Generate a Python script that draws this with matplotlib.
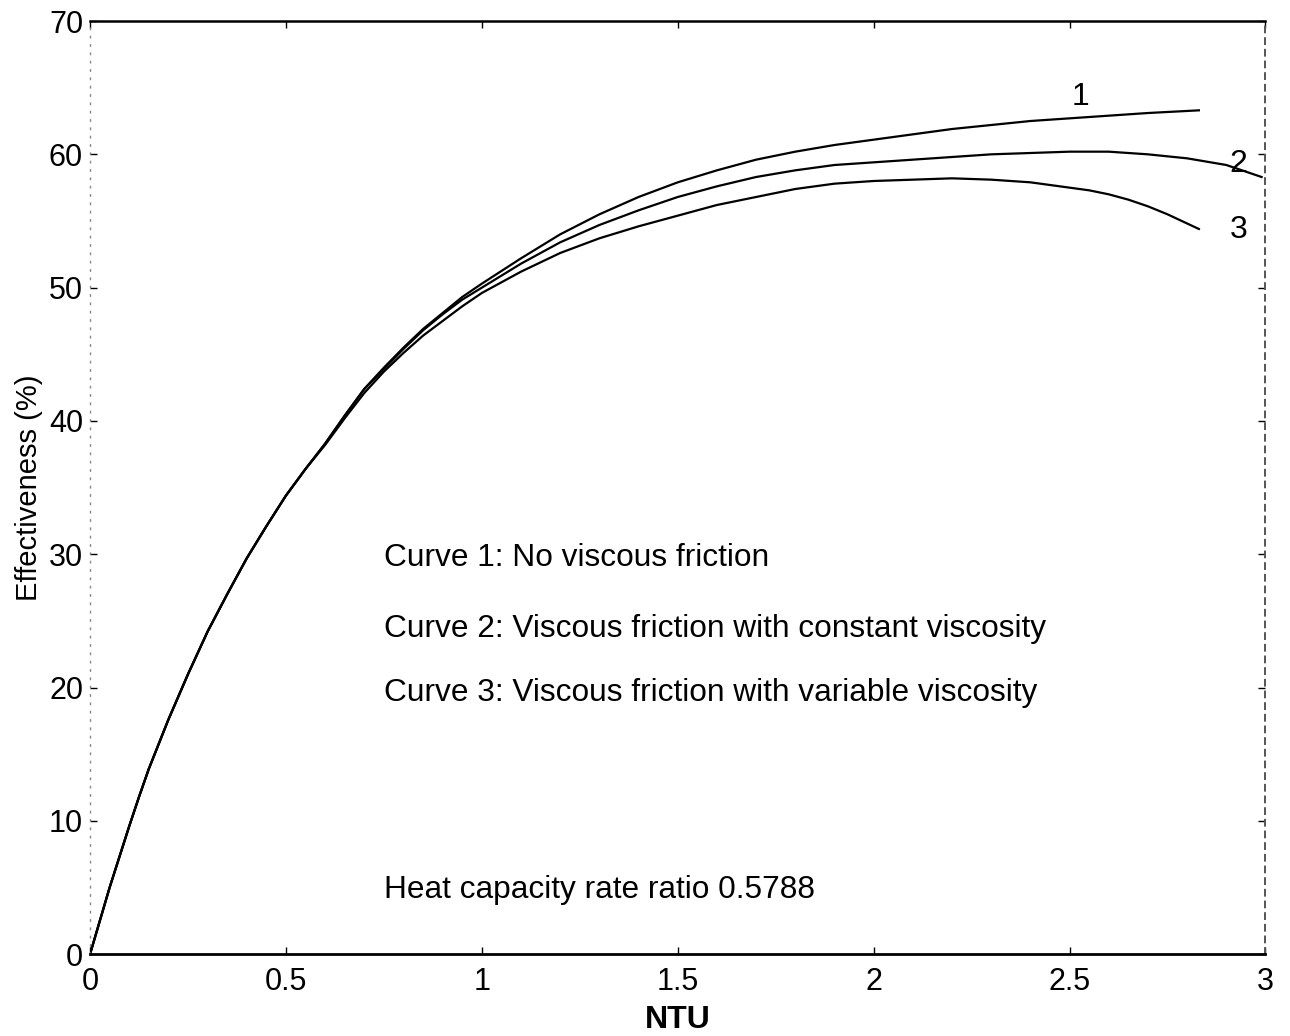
import matplotlib
matplotlib.use("Agg")
import matplotlib.pyplot as plt

plt.rcParams["font.family"] = ["Liberation Sans", "DejaVu Sans"]

# ------------------------------------------------------------------
# Data
# ------------------------------------------------------------------
ntu_1 = [0, 0.025, 0.05, 0.075, 0.1, 0.125, 0.15, 0.2, 0.25, 0.3, 0.35, 0.4, 0.45, 0.5,
         0.55, 0.6, 0.65, 0.7, 0.75, 0.8, 0.85, 0.9, 0.95, 1.0, 1.1, 1.2, 1.3, 1.4, 1.5,
         1.6, 1.7, 1.8, 1.9, 2.0, 2.1, 2.2, 2.3, 2.4, 2.5, 2.6, 2.7, 2.83]
eff_1 = [0, 2.5, 5.0, 7.3, 9.6, 11.8, 13.9, 17.6, 21.0, 24.2, 27.0, 29.7, 32.1, 34.4,
         36.4, 38.3, 40.4, 42.4, 44.0, 45.5, 46.9, 48.1, 49.3, 50.3, 52.2, 54.0, 55.5, 56.8, 57.9,
         58.8, 59.6, 60.2, 60.7, 61.1, 61.5, 61.9, 62.2, 62.5, 62.7, 62.9, 63.1, 63.3]

ntu_2 = [0, 0.025, 0.05, 0.075, 0.1, 0.125, 0.15, 0.2, 0.25, 0.3, 0.35, 0.4, 0.45, 0.5,
         0.55, 0.6, 0.65, 0.7, 0.75, 0.8, 0.85, 0.9, 0.95, 1.0, 1.1, 1.2, 1.3, 1.4, 1.5,
         1.6, 1.7, 1.8, 1.9, 2.0, 2.1, 2.2, 2.3, 2.4, 2.5, 2.6, 2.7, 2.8, 2.9, 2.99]
eff_2 = [0, 2.5, 5.0, 7.3, 9.6, 11.8, 13.9, 17.6, 21.0, 24.2, 27.0, 29.7, 32.1, 34.4,
         36.4, 38.3, 40.4, 42.4, 43.9, 45.4, 46.8, 48.0, 49.1, 50.0, 51.8, 53.4, 54.7, 55.8, 56.8,
         57.6, 58.3, 58.8, 59.2, 59.4, 59.6, 59.8, 60.0, 60.1, 60.2, 60.2, 60.0, 59.7, 59.2, 58.3]

ntu_3 = [0, 0.025, 0.05, 0.075, 0.1, 0.125, 0.15, 0.2, 0.25, 0.3, 0.35, 0.4, 0.45, 0.5,
         0.55, 0.6, 0.65, 0.7, 0.75, 0.8, 0.85, 0.9, 0.95, 1.0, 1.1, 1.2, 1.3, 1.4, 1.5,
         1.6, 1.7, 1.8, 1.9, 2.0, 2.1, 2.2, 2.3, 2.4, 2.5, 2.55, 2.6, 2.65, 2.7, 2.75, 2.83]
eff_3 = [0, 2.5, 5.0, 7.3, 9.6, 11.8, 13.9, 17.6, 21.0, 24.2, 27.0, 29.7, 32.1, 34.4,
         36.4, 38.2, 40.2, 42.1, 43.7, 45.1, 46.4, 47.5, 48.6, 49.6, 51.2, 52.6, 53.7, 54.6, 55.4,
         56.2, 56.8, 57.4, 57.8, 58.0, 58.1, 58.2, 58.1, 57.9, 57.5, 57.3, 57.0, 56.6, 56.1, 55.5, 54.4]

curve_labels = ["1", "2", "3"]
notes = ["Curve 1: No viscous friction",
         "Curve 2: Viscous friction with constant viscosity",
         "Curve 3: Viscous friction with variable viscosity"]
ratio_note = "Heat capacity rate ratio 0.5788"

x_ticks = [0, 0.5, 1, 1.5, 2, 2.5, 3]
x_ticklabels = ["0", "0.5", "1", "1.5", "2", "2.5", "3"]
y_ticks = [0, 10, 20, 30, 40, 50, 60, 70]

# ------------------------------------------------------------------
# Plot
# ------------------------------------------------------------------
fig = plt.figure(figsize=(12.9, 10.36), dpi=100)
ax = fig.add_axes([0.0698, 0.079, 0.9112, 0.9007])

for xs, ys in [(ntu_1, eff_1), (ntu_2, eff_2), (ntu_3, eff_3)]:
    ax.plot(xs, ys, color="black", lw=1.6, solid_joinstyle="round")

ax.set_xlim(0, 3)
ax.set_ylim(0, 70)
ax.set_xticks(x_ticks)
ax.set_xticklabels(x_ticklabels)
ax.set_yticks(y_ticks)

ax.tick_params(direction="in", length=5, width=1.0, labelsize=22,
               top=True, right=True)
ax.tick_params(axis="x", pad=9)
ax.tick_params(axis="y", pad=5)
ax.set_xlabel("NTU", fontsize=23, fontweight="bold", labelpad=6)
ax.set_ylabel("Effectiveness (%)", fontsize=21, labelpad=4)

# scanned-looking frame: solid top/bottom, broken left/right
ax.spines["top"].set_linewidth(1.8)
ax.spines["bottom"].set_linewidth(2.0)
ax.spines["left"].set_linewidth(1.0)
ax.spines["left"].set_color("#888888")
ax.spines["left"].set_linestyle((0, (1, 5)))
ax.spines["right"].set_linewidth(1.4)
ax.spines["right"].set_color("#555555")
ax.spines["right"].set_linestyle((0, (3, 3)))

# curve numbers
ax.text(2.528, 64.3, curve_labels[0], fontsize=23, ha="center", va="center")
ax.text(2.931, 59.3, curve_labels[1], fontsize=23, ha="center", va="center")
ax.text(2.931, 54.3, curve_labels[2], fontsize=23, ha="center", va="center")

for yv, s in zip([29.7, 24.4, 19.6], notes):
    ax.text(0.75, yv, s, fontsize=22.8, ha="left", va="center")
ax.text(0.75, 4.8, ratio_note, fontsize=22.8, ha="left", va="center")

fig.savefig("out.png", dpi=100)
